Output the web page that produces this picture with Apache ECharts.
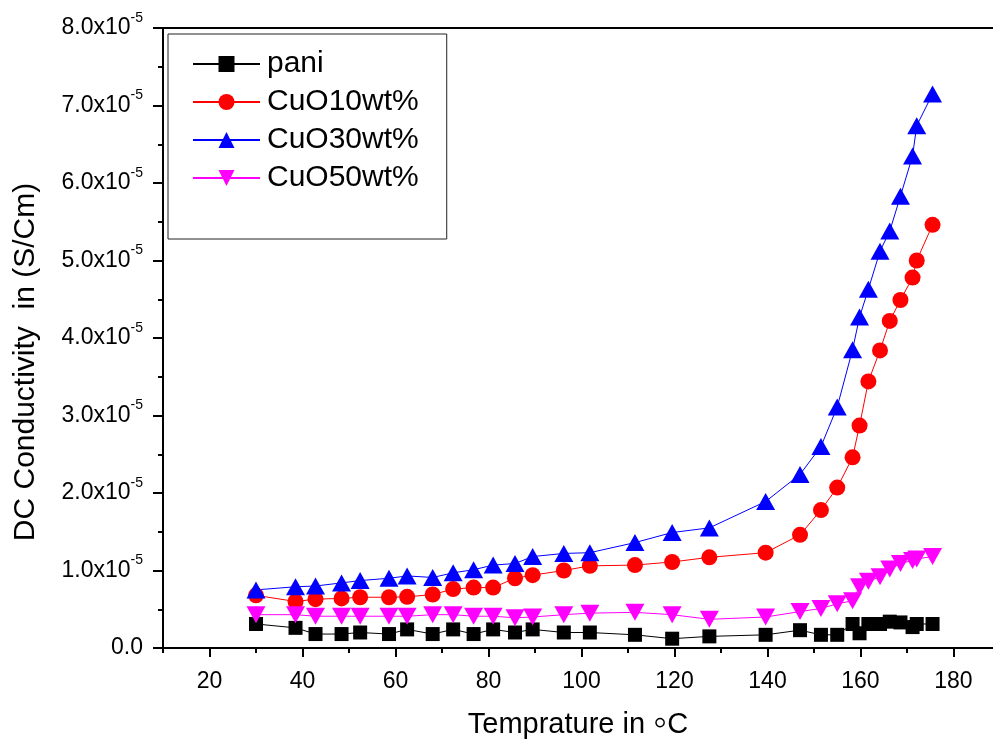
<!DOCTYPE html>
<html>
<head>
<meta charset="utf-8">
<script src="https://cdn.jsdelivr.net/npm/echarts@6/dist/echarts.min.js"></script>
<style>
  html, body { margin: 0; padding: 0; background: #fff; }
  #chart { width: 993px; height: 740px; }
</style>
</head>
<body>
<div id="chart"></div>
<script>
// temperature in °C
const temps = [30, 38.5, 42.8, 48.4, 52.4, 58.6, 62.5, 68, 72.4, 76.8, 81, 85.7, 89.5, 96.2, 101.8,
  111.5, 119.5, 127.5, 139.6, 147, 151.5, 155, 158.3, 159.8, 161.7, 164.2, 166.3, 168.6, 171.2, 172.1, 175.5];

// DC conductivity, in units of 10^-5 S/Cm
const pani = [0.31, 0.26, 0.18, 0.18, 0.20, 0.18, 0.24, 0.18, 0.24, 0.18, 0.24, 0.20, 0.24, 0.20, 0.20,
  0.17, 0.12, 0.15, 0.17, 0.23, 0.17, 0.17, 0.31, 0.19, 0.31, 0.31, 0.34, 0.33, 0.27, 0.31, 0.31];
const cuo10 = [0.68, 0.60, 0.63, 0.64, 0.655, 0.655, 0.66, 0.69, 0.76, 0.78, 0.78, 0.90, 0.94, 1.00, 1.06,
  1.07, 1.11, 1.17, 1.23, 1.46, 1.78, 2.07, 2.46, 2.87, 3.44, 3.84, 4.22, 4.49, 4.78, 5.00, 5.46];
const cuo30 = [0.75, 0.79, 0.80, 0.84, 0.87, 0.90, 0.93, 0.91, 0.97, 1.01, 1.07, 1.09, 1.18, 1.22, 1.23,
  1.36, 1.49, 1.55, 1.89, 2.24, 2.60, 3.11, 3.85, 4.27, 4.63, 5.12, 5.38, 5.83, 6.35, 6.74, 7.15];
const cuo50 = [0.43, 0.43, 0.41, 0.41, 0.41, 0.41, 0.41, 0.43, 0.43, 0.41, 0.41, 0.39, 0.40, 0.43, 0.45,
  0.46, 0.43, 0.37, 0.40, 0.47, 0.51, 0.57, 0.61, 0.79, 0.86, 0.92, 1.02, 1.09, 1.13, 1.15, 1.18];

const seriesNames = ["pani", "CuO10wt%", "CuO30wt%", "CuO50wt%"];
const xMajorTicks = [20, 40, 60, 80, 100, 120, 140, 160, 180];
const xMinorTicks = [10, 30, 50, 70, 90, 110, 130, 150, 170];

const font = "'Liberation Sans', Arial, sans-serif";
const axisColor = "#000";

const chart = echarts.init(document.getElementById("chart"));

const pairs = (vals) => temps.map((t, i) => [t, vals[i]]);

const makeSeries = (name, vals, color, symbol, size, rotate) => ({
  name: name,
  type: "line",
  xAxisIndex: 0,
  data: pairs(vals),
  symbol: symbol,
  symbolSize: size,
  symbolRotate: rotate || 0,
  showAllSymbol: true,
  lineStyle: { color: color, width: 1 },
  itemStyle: { color: color },
  emphasis: { disabled: true },
});

const option = {
  animation: false,
  backgroundColor: "#fff",
  grid: { left: 163, right: 0, top: 28, bottom: 92, outerBoundsMode: "none", containLabel: false },
  legend: {
    orient: "vertical",
    left: 168,
    top: 34,
    itemWidth: 67,
    itemHeight: 20,
    itemGap: 8,
    padding: [15, 28, 46, 24],
    borderColor: "#222",
    borderWidth: 1,
    backgroundColor: "#fff",
    textStyle: { fontSize: 30, lineHeight: 29, fontFamily: font, color: "#000", padding: [0, 0, 0, 2] },
    data: seriesNames,
  },
  xAxis: [
    {
      type: "value",
      min: 10,
      max: 188.5,
      position: "bottom",
      name: "{t|Temprature in }{d|\u25E6}{t|C}",
      nameLocation: "middle",
      nameGap: 60,
      nameTextStyle: {
        fontSize: 29, fontFamily: font, color: "#000",
        rich: {
          t: { fontSize: 29, lineHeight: 34, fontFamily: font, color: "#000" },
          d: { fontSize: 40, lineHeight: 34, fontFamily: font, color: "#000", padding: [0, 0, 2, 0] },
        },
      },
      axisLine: { onZero: false, lineStyle: { color: axisColor, width: 2 } },
      axisTick: { customValues: xMajorTicks, length: 9, lineStyle: { color: axisColor, width: 2 } },
      axisLabel: { customValues: xMajorTicks, margin: 22, fontSize: 23, fontFamily: font, color: "#000" },
      splitLine: { show: false },
    },
    {
      type: "value",
      min: 10,
      max: 188.5,
      position: "bottom",
      axisLine: { show: false, onZero: false },
      axisTick: { customValues: xMinorTicks, length: 5, lineStyle: { color: axisColor, width: 2 } },
      axisLabel: { show: false },
      splitLine: { show: false },
    },
    {
      type: "value",
      min: 10,
      max: 188.5,
      position: "top",
      axisLine: { onZero: false, lineStyle: { color: axisColor, width: 2 } },
      axisTick: { show: false },
      axisLabel: { show: false },
      splitLine: { show: false },
    },
  ],
  yAxis: {
    type: "value",
    min: 0,
    max: 8,
    interval: 1,
    name: "DC Conductivity  in (S/Cm)",
    nameLocation: "middle",
    nameGap: 122,
    nameTextStyle: { fontSize: 30, fontFamily: font, color: "#000", padding: [0, 48, 0, 0] },
    axisLine: { show: true, onZero: false, lineStyle: { color: axisColor, width: 2 } },
    axisTick: { length: 10, lineStyle: { color: axisColor, width: 2 } },
    minorTick: { show: true, splitNumber: 2, length: 5, lineStyle: { color: axisColor, width: 2 } },
    axisLabel: {
      margin: 20,
      formatter: (v) => (v === 0 ? "{m|0.0}" : "{m|" + v.toFixed(1) + "x10}{s|-5}"),
      rich: {
        m: { fontSize: 23, lineHeight: 34, fontFamily: font, color: "#000" },
        s: { fontSize: 14, lineHeight: 14, fontFamily: font, color: "#000", verticalAlign: "top" },
      },
    },
    splitLine: { show: false },
  },
  series: [
    makeSeries(seriesNames[0], pani, "#000000", "rect", 14),
    makeSeries(seriesNames[1], cuo10, "#ff0000", "circle", 16),
    makeSeries(seriesNames[2], cuo30, "#0000ff", "triangle", [19, 17]),
    makeSeries(seriesNames[3], cuo50, "#ff00ff", "triangle", [19, 17], 180),
  ],
};

chart.setOption(option);

window.addEventListener("resize", () => {
  chart.resize();
});
</script>
</body>
</html>
